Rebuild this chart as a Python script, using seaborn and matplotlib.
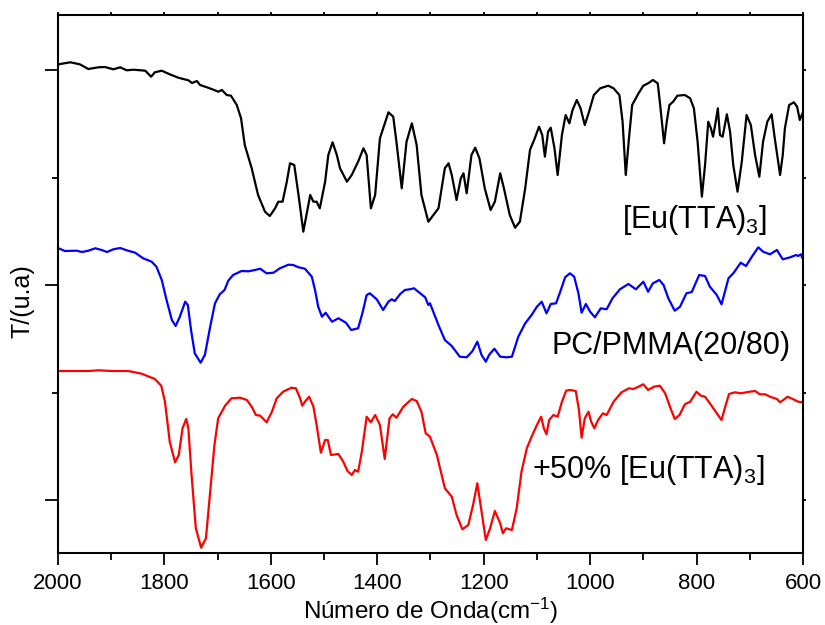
import matplotlib
matplotlib.use("Agg")
import matplotlib.pyplot as plt
from matplotlib.ticker import MultipleLocator, FixedLocator
import seaborn as sns

# FTIR spectra, transmittance in arbitrary units
eu_wn = [1999, 1977, 1959, 1943, 1924, 1912, 1896, 1883, 1871, 1858,
         1836, 1825, 1818, 1805, 1790, 1774, 1755, 1748, 1739, 1733,
         1718, 1708, 1699, 1692, 1683, 1675, 1664, 1656, 1649, 1636,
         1624, 1611, 1602, 1592, 1586, 1578, 1570, 1564, 1556, 1548,
         1539, 1533, 1526, 1520, 1514, 1508, 1498, 1492, 1484, 1476,
         1470, 1457, 1448, 1436, 1426, 1420, 1412, 1404, 1395, 1379,
         1370, 1364, 1354, 1345, 1335, 1326, 1317, 1304, 1285, 1273,
         1266, 1260, 1251, 1243, 1238, 1232, 1223, 1216, 1208, 1198,
         1187, 1179, 1169, 1162, 1151, 1141, 1132, 1122, 1113, 1104,
         1096, 1090, 1085, 1079, 1074, 1067, 1061, 1053, 1046, 1039,
         1033, 1025, 1018, 1010, 1002, 993, 981, 966, 956, 945,
         939, 933, 927, 921, 909, 900, 891, 882, 873, 869,
         864, 861, 856, 851, 844, 836, 822, 812, 805, 798,
         790, 784, 778, 773, 769, 764, 760, 756, 751, 743,
         737, 731, 723, 715, 706, 698, 690, 682, 675, 667,
         659, 653, 643, 638, 634, 626, 617, 611, 606, 601]
eu_t = [488.7, 490.7, 488.7, 484, 485.7, 486, 483.7, 485.7, 482.7, 483.3,
        482.3, 476.3, 480.7, 482.3, 478.7, 475.3, 472.7, 470, 472, 468,
        465.3, 463.3, 461.3, 463, 458, 457.3, 448, 434.7, 408, 384.7,
        358, 341.3, 337, 344.7, 351.3, 351.3, 371.3, 389.7, 388, 358,
        321.3, 338, 358, 351.3, 351.3, 344.7, 371.3, 398, 410.7, 398,
        384.7, 371.3, 378, 391.3, 404.7, 398, 344.7, 358, 414.7, 440.7,
        436.3, 411.3, 364.7, 411.3, 429.7, 408, 358, 331.3, 344.7, 384.7,
        389.7, 378, 353, 374.7, 379.7, 359.7, 398, 405.3, 394.7, 364.7,
        343, 351.3, 379.7, 364.7, 338, 325.3, 331.3, 364.7, 403, 414.7,
        426.3, 418, 396.3, 421.3, 425.3, 404.7, 378, 418, 438, 429.7,
        443, 453, 444.7, 428, 441.3, 458, 464.7, 467.3, 464.7, 458,
        431.3, 378, 414.7, 448, 459.7, 467.3, 469.7, 473, 469.7, 451.3,
        424.7, 409.7, 431.3, 448, 451.3, 457.3, 458, 454.7, 444.7, 411.3,
        356.3, 388, 431.3, 424.7, 416.3, 431.3, 444.7, 418, 416.3, 438.7,
        421.3, 388, 361.3, 391.3, 438, 428, 398, 376.3, 411.3, 431.3,
        438.7, 414.7, 378, 398, 424.7, 448, 450.7, 446.3, 433, 439.7]

pc_wn = [1999, 1987, 1965, 1955, 1943, 1930, 1918, 1908, 1896, 1883,
         1871, 1855, 1840, 1824, 1815, 1805, 1796, 1786, 1779, 1771,
         1761, 1756, 1750, 1743, 1732, 1724, 1714, 1705, 1696, 1687,
         1680, 1671, 1655, 1642, 1630, 1620, 1608, 1595, 1583, 1567,
         1558, 1548, 1536, 1523, 1517, 1511, 1504, 1497, 1491, 1485,
         1473, 1459, 1449, 1436, 1428, 1420, 1414, 1401, 1389, 1379,
         1373, 1367, 1357, 1348, 1339, 1331, 1323, 1310, 1304, 1301,
         1285, 1273, 1260, 1245, 1232, 1221, 1212, 1204, 1196, 1190,
         1180, 1169, 1157, 1147, 1135, 1122, 1110, 1100, 1091, 1082,
         1074, 1064, 1055, 1047, 1038, 1030, 1022, 1016, 1008, 1000,
         991, 980, 969, 958, 944, 928, 914, 900, 891, 882,
         870, 862, 853, 841, 831, 819, 809, 795, 784, 775,
         762, 753, 740, 730, 717, 707, 696, 684, 675, 662,
         649, 638, 624, 613, 609, 604, 601]
pc_t = [304.7, 302, 302.3, 301, 302.3, 304.7, 303, 301, 303.7, 305,
        302.7, 300.3, 294.7, 291.3, 286.3, 273, 253, 233, 227, 236.3,
        251.3, 248, 223, 199.7, 190.3, 198, 226.3, 249.7, 258.7, 263,
        272.3, 278, 282, 281.7, 283, 284.3, 279.7, 280.3, 284.7, 288.3,
        288, 285.7, 284.3, 276.3, 263, 246.3, 236.3, 240.3, 235.7, 231.3,
        234.7, 230.3, 223, 224.7, 239.7, 258, 259.7, 253.7, 243, 251.3,
        253.7, 252, 259, 263, 263.7, 264.7, 261.3, 255.7, 248, 249.7,
        228, 213, 207, 196.3, 195.7, 202, 211.3, 198, 191.3, 198,
        204.3, 196.3, 195.7, 196.3, 216.3, 229.7, 238, 246.3, 251.3, 239.7,
        249, 249.7, 263, 275.7, 279.7, 276.3, 259.7, 240.3, 249, 241.3,
        235.7, 244.7, 243.7, 254.7, 263.7, 269, 263.7, 271.3, 261.3, 269.7,
        273, 268, 254.7, 242.3, 246.3, 259.7, 261, 278, 277, 266.3,
        258, 248.7, 274.7, 280.3, 290.3, 287, 296.3, 305.7, 301.3, 298.7,
        303, 293.7, 295.7, 298, 297, 298.7, 294.7]

mix_wn = [1999, 1943, 1924, 1899, 1868, 1843, 1818, 1806, 1799, 1790,
          1780, 1773, 1766, 1759, 1755, 1749, 1741, 1731, 1722, 1714,
          1706, 1699, 1686, 1674, 1658, 1645, 1636, 1628, 1620, 1608,
          1598, 1589, 1577, 1561, 1553, 1545, 1541, 1535, 1528, 1520,
          1514, 1506, 1498, 1493, 1487, 1473, 1464, 1456, 1448, 1442,
          1436, 1429, 1420, 1412, 1404, 1395, 1386, 1377, 1371, 1364,
          1351, 1335, 1326, 1317, 1309, 1301, 1288, 1273, 1260, 1251,
          1240, 1229, 1220, 1212, 1204, 1196, 1188, 1179, 1169, 1164,
          1158, 1147, 1138, 1129, 1119, 1110, 1100, 1092, 1087, 1082,
          1077, 1069, 1061, 1053, 1045, 1038, 1027, 1021, 1016, 1010,
          1003, 998, 992, 985, 976, 969, 956, 941, 927, 919,
          909, 900, 891, 880, 869, 859, 850, 841, 832, 822,
          812, 800, 792, 784, 775, 762, 753, 747, 739, 728,
          717, 700, 690, 681, 671, 662, 649, 643, 637, 629,
          618, 609, 601]
mix_t = [182, 182, 182.7, 182, 182, 179.3, 174, 167.3, 151.3, 111.3,
         90.7, 98, 124.7, 134, 124.7, 78, 24.7, 5.3, 14.7, 61.3,
         108, 134.7, 147.3, 154.7, 155.3, 153, 146.3, 138, 137.3, 130.7,
         141.3, 154.7, 161.3, 165.3, 164.7, 154.7, 147.3, 152, 156.3, 146.3,
         128, 100.3, 113, 113, 98, 99, 91.3, 82, 78, 83,
         81.3, 101.3, 136.3, 130.7, 138, 128, 94, 134.7, 138.7, 135.3,
         146.3, 154, 152, 141.3, 119.7, 116.3, 98, 64.7, 56.3, 38,
         23.7, 28, 48, 69.7, 41.3, 13, 24.7, 42, 29.7, 19.7,
         24.7, 23, 44.7, 81.3, 104.7, 116.3, 128, 136.3, 124.7, 118.7,
         133, 138, 136.3, 151.3, 162.3, 163, 162, 143, 115.3, 134.7,
         141.3, 131.3, 124.7, 133, 139.7, 138, 151.3, 160.7, 164.7, 164,
         166.3, 168.7, 163, 166.3, 167.3, 159.7, 146.3, 134, 138, 148.7,
         151.3, 161.3, 157.3, 156.3, 149.7, 139.7, 133, 144.7, 159, 160.7,
         159.7, 161.3, 162, 158.7, 158.7, 156.3, 154, 150.7, 153, 156.3,
         153.7, 151.3, 150.7]

series = [(eu_wn, eu_t, 'black'),
          (pc_wn, pc_t, 'blue'),
          (mix_wn, mix_t, 'red')]

sns.set_theme(style="ticks")
plt.rcParams['font.family'] = ['Liberation Sans', 'DejaVu Sans']
plt.rcParams['mathtext.fontset'] = 'custom'
plt.rcParams['mathtext.rm'] = 'Liberation Sans'
plt.rcParams['mathtext.it'] = 'Liberation Sans:italic'
plt.rcParams['mathtext.bf'] = 'Liberation Sans:bold'
plt.rcParams['text.color'] = 'black'
plt.rcParams['axes.labelcolor'] = 'black'
plt.rcParams['xtick.color'] = 'black'
plt.rcParams['ytick.color'] = 'black'
plt.rcParams['xtick.labelcolor'] = 'black'

fig = plt.figure(figsize=(8.25, 6.25), dpi=100)
ax = fig.add_axes([0.0703, 0.1152, 0.903, 0.8608])

for wn, t, c in series:
    sns.lineplot(x=wn, y=t, color=c, linewidth=1.6, sort=False,
                 estimator=None, ax=ax, solid_joinstyle='round')

ax.set_xlim(2000, 600)
ax.set_ylim(0, 538)
ax.xaxis.set_major_locator(MultipleLocator(200))
ax.xaxis.set_minor_locator(MultipleLocator(100))
ax.yaxis.set_major_locator(FixedLocator([53, 268, 483]))
ax.yaxis.set_minor_locator(FixedLocator([160.5, 375.5]))
ax.set_yticklabels([])

for s in ax.spines.values():
    s.set_linewidth(1.5)
    s.set_color('black')

ax.tick_params(axis='both', which='both', direction='out', width=1.3,
               color='black', labelcolor='black', top=True, right=True)
ax.tick_params(axis='x', which='major', length=8.6, pad=6, labelsize=16)
ax.tick_params(axis='x', which='minor', length=5)
ax.tick_params(axis='y', which='major', length=9.4)
ax.tick_params(axis='y', which='minor', length=4.3)

fig.canvas.draw()
for axis in (ax.xaxis, ax.yaxis):
    for tk in axis.get_major_ticks() + axis.get_minor_ticks():
        tk.tick2line.set_markersize(2)

ax.set_xlabel('Número de Onda(cm$^{-1}$)', fontsize=17.5, labelpad=1)
ax.set_ylabel('T/(u.a)', fontsize=18)
ax.yaxis.set_label_coords(-0.032, 0.468)

ax.text(940, 325, '[Eu(TTA)$_{3}$]', fontsize=22, va='baseline')
ax.text(1072, 199, 'PC/PMMA(20/80)', fontsize=22, va='baseline')
ax.text(1110, 75, '+50% [Eu(TTA)$_{3}$]', fontsize=22, va='baseline')

fig.savefig('out.png', dpi=100)
